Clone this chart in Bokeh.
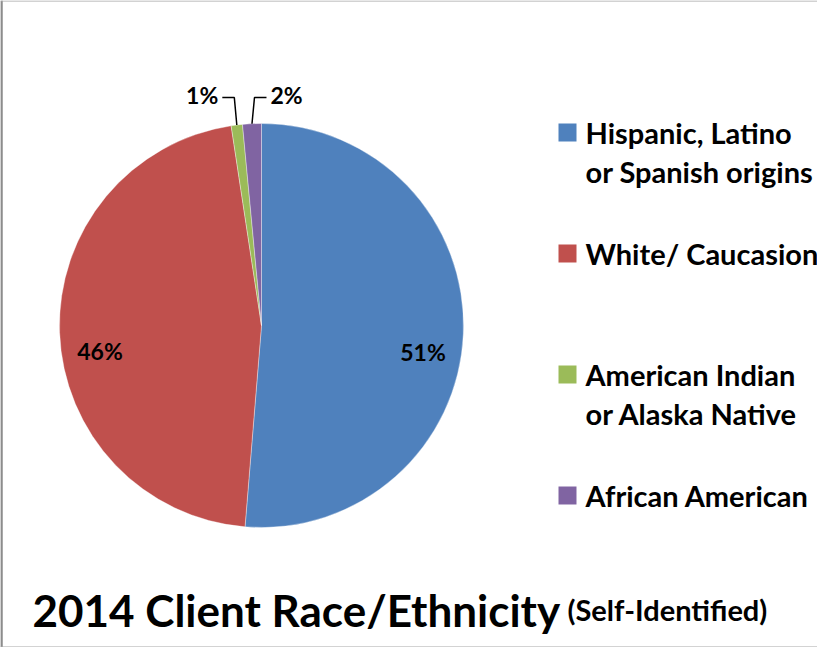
import math
from bokeh.plotting import figure
from bokeh.models import Range1d, Span, ColumnDataSource
from bokeh.core.properties import value
from bokeh.embed import file_html
from bokeh.resources import INLINE

# ---- data ----
categories = ["Hispanic, Latino or Spanish origins", "White/ Caucasion",
              "American Indian or Alaska Native", "African American"]
legend_labels = [" Hispanic, Latino\nor Spanish origins", "White/ Caucasion",
                 "American Indian\nor Alaska Native", "African American"]
shares = [51.3, 46.3, 0.9, 1.5]
pct_labels = ["51%", "46%", "1%", "2%"]
colors = ["#4F81BD", "#C0504D", "#9BBB59", "#8064A2"]

W, H = 817, 647
FONT = value("Lato")

p = figure(width=W, height=H, x_range=Range1d(0, W), y_range=Range1d(0, H),
           output_backend="svg", toolbar_location=None, min_border=0,
           outline_line_color=None, background_fill_color="white")
p.axis.visible = False
p.grid.visible = False

cx, cy, R = 261, 322, 202
total = sum(shares)
starts, ends, mids = [], [], []
cum = 0.0
for s in shares:
    a0 = math.pi / 2 - cum / total * 2 * math.pi
    cum += s
    a1 = math.pi / 2 - cum / total * 2 * math.pi
    starts.append(a1)
    ends.append(a0)
    mids.append((a0 + a1) / 2)

src = ColumnDataSource(dict(start=starts, end=ends, color=colors, cat=categories))
p.wedge(x=cx, y=cy, radius=R, start_angle="start", end_angle="end",
        direction="anticlock", fill_color="color", line_color="white",
        line_width=0.6, line_alpha=0.6, source=src)

# inside labels (large slices)
in_x, in_y, in_t = [], [], []
# outside labels with leader lines (small slices), alternating left / right
out_x, out_y, out_t, out_align = [], [], [], []
lx, ly = [], []
k = 0
for i, (m, s) in enumerate(zip(mids, shares)):
    if s / total > 0.1:
        in_x.append(cx + 0.8 * R * math.cos(m))
        in_y.append(cy + 0.8 * R * math.sin(m) - 20)
        in_t.append(pct_labels[i])
    else:
        side = -1 if k % 2 == 0 else 1
        k += 1
        sx = cx + R * math.cos(m)
        sy = cy + R * math.sin(m)
        ex = sx + side * 2.5
        ey = cy + R + 26
        hx = ex + side * 12
        lx.append([sx, ex, hx])
        ly.append([sy, ey, ey])
        out_x.append(hx + side * 4)
        out_y.append(ey + 3)
        out_t.append(pct_labels[i])
        out_align.append("right" if side < 0 else "left")

p.multi_line(xs=lx, ys=ly, line_color="black", line_width=1.5)
p.text(x=in_x, y=in_y, text=in_t, text_font=FONT, text_font_style="bold",
       text_font_size="23px", text_align="center", text_baseline="middle",
       text_color="black")
p.text(x=out_x, y=out_y, text=out_t, text_align=out_align, text_font=FONT,
       text_font_style="bold", text_font_size="23px", text_baseline="middle",
       text_color="black")

# legend
leg_x, leg_top, leg_step = 567, 515, 121
sq_y = [leg_top - i * leg_step for i in range(len(categories))]
p.rect(x=[leg_x] * len(categories), y=sq_y, width=18, height=18,
       fill_color=colors, line_color=None)
t_x, t_y, t_t = [], [], []
for i, lab in enumerate(legend_labels):
    for j, line in enumerate(lab.split("\n")):
        t_x.append(leg_x + 18)
        t_y.append(sq_y[i] - j * 39)
        t_t.append(line)
p.text(x=t_x, y=t_y, text=t_t, text_font=FONT, text_font_style="bold",
       text_font_size="29px", text_align="left", text_baseline="middle",
       text_color="black")

# title
p.text(x=[32], y=[38], text=["2014 Client Race/Ethnicity"], text_font=FONT,
       text_font_style="bold", text_font_size="44px", text_baseline="alphabetic",
       text_color="black")
p.text(x=[567], y=[38], text=["(Self-Identified)"], text_font=FONT,
       text_font_style="bold", text_font_size="29px", text_baseline="alphabetic",
       text_color="black")

# chart frame
p.add_layout(Span(location=1, dimension="height", line_color="#8c8c8c", line_width=2.5))
p.add_layout(Span(location=H - 0.5, dimension="width", line_color="#a6a6a6", line_width=1))
p.add_layout(Span(location=0.5, dimension="width", line_color="#a6a6a6", line_width=1))

open("out.html", "w").write(file_html(p, INLINE))
